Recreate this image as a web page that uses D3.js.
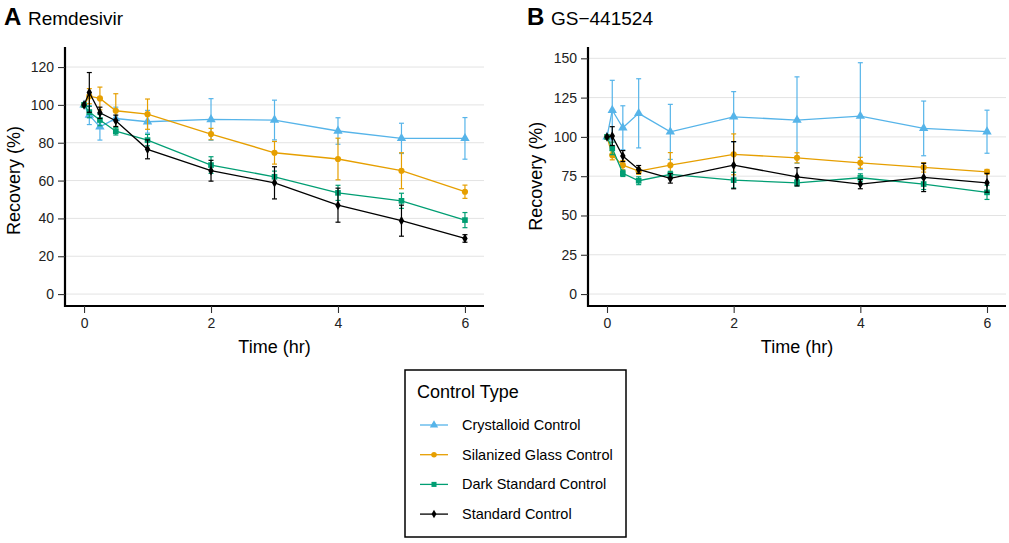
<!DOCTYPE html>
<html>
<head>
<meta charset="utf-8">
<script src="https://cdn.jsdelivr.net/npm/d3@7"></script>
<style>
  body { margin: 0; background: #fff; }
  text { font-family: "Liberation Sans", Arial, sans-serif; }
</style>
</head>
<body>
<div id="chart"></div>
<script>
var width = 1009,
    height = 543;

// sampling times (hr)
var times = [0, 0.083, 0.25, 0.5, 1, 2, 3, 4, 5, 6];
var controls = ["Crystalloid Control", "Silanized Glass Control", "Dark Standard Control", "Standard Control"];

// Panel A - Remdesivir: mean recovery (%) and sd
var remCrystalloid = [100, 94.6, 88.4, 92.8, 91.1, 92.3, 92.0, 86.2, 82.3, 82.3];
var remCrystalloidSd = [0, 5, 7, 6, 6, 11, 10.5, 7, 8, 11];
var remSilanized = [100, 104.6, 103.4, 96.9, 95.1, 84.6, 74.7, 71.4, 65.2, 54.1];
var remSilanizedSd = [0, 4, 6, 9, 8, 3, 6, 11, 9.5, 3.5];
var remDark = [100, 96.2, 92, 86.1, 81.4, 68.2, 62, 53.5, 49.3, 39.1];
var remDarkSd = [0, 3, 3, 2, 3, 4.4, 3, 4, 4, 4];
var remStandard = [100, 106.6, 95.8, 91.6, 76.5, 65.2, 58.8, 47, 38.8, 29.4];
var remStandardSd = [0, 10.5, 3, 3, 5, 5.5, 8.5, 9, 8.2, 2];

// Panel B - GS-441524
var gsCrystalloid = [100, 117, 105.8, 115, 103.2, 112.8, 110.7, 113.2, 105.4, 103.3];
var gsCrystalloidSd = [0, 19, 14, 22, 17.5, 16, 27.5, 34, 17.4, 13.7];
var gsSilanized = [100, 88.4, 82, 78.2, 82, 88.9, 86.7, 83.5, 80.6, 77.8];
var gsSilanizedSd = [0, 3, 3, 2, 8, 13, 3.2, 3.5, 3, 1.5];
var gsDark = [100, 92.7, 76.8, 72.1, 76.1, 72.5, 70.8, 74, 70, 64.7];
var gsDarkSd = [0, 4, 2, 2.5, 2, 5, 2, 2.5, 3.5, 4.5];
var gsStandard = [100, 100.5, 87.8, 79.3, 73.6, 82, 74.6, 70, 74.2, 70.8];
var gsStandardSd = [0, 6, 3.5, 2.5, 3, 15, 5.8, 3, 9, 6];

var xTicks = [0, 2, 4, 6];
var remTicks = [0, 20, 40, 60, 80, 100, 120];
var gsTicks = [0, 25, 50, 75, 100, 125, 150];

var colors = ["#56B4E9", "#E69F00", "#009E73", "#000000"];
var shapes = [d3.symbolTriangle, d3.symbolCircle, d3.symbolSquare, d3.symbolDiamond];
var sizes = [38, 30, 32, 26];

var svg = d3.select("#chart").append("svg")
    .attr("width", width)
    .attr("height", height);

svg.append("rect").attr("width", width).attr("height", height).attr("fill", "#fff");

function makeSeries(means, sds) {
  return means.map(function(m, i) {
    return times.map(function(t, j) { return {t: t, y: m[j], sd: sds[i][j]}; });
  });
}

function drawPanel(opts) {
  var x = d3.scaleLinear().domain([-0.3, 6.3]).range([opts.left, opts.right]);
  var y = d3.scaleLinear().domain(opts.yDomain).range([306, opts.top]);

  var g = svg.append("g");

  // horizontal grid
  g.append("g")
    .selectAll("line")
    .data(opts.yTicks)
    .enter().append("line")
      .attr("x1", opts.left)
      .attr("x2", opts.right)
      .attr("y1", function(d) { return y(d); })
      .attr("y2", function(d) { return y(d); })
      .attr("stroke", "#e3e3e3")
      .attr("stroke-width", 1);

  var series = makeSeries(opts.means, opts.sds);

  var line = d3.line()
    .x(function(d) { return x(d.t); })
    .y(function(d) { return y(d.y); });

  series.forEach(function(s, i) {
    var sg = g.append("g");
    var eb = sg.selectAll(".eb").data(s.filter(function(d) { return d.sd > 0; })).enter().append("g")
        .attr("stroke", colors[i])
        .attr("stroke-width", 1.2);
    eb.append("line")
      .attr("x1", function(d) { return x(d.t); })
      .attr("x2", function(d) { return x(d.t); })
      .attr("y1", function(d) { return y(d.y - d.sd); })
      .attr("y2", function(d) { return y(d.y + d.sd); });
    eb.append("line")
      .attr("x1", function(d) { return x(d.t) - 2.5; })
      .attr("x2", function(d) { return x(d.t) + 2.5; })
      .attr("y1", function(d) { return y(d.y + d.sd); })
      .attr("y2", function(d) { return y(d.y + d.sd); });
    eb.append("line")
      .attr("x1", function(d) { return x(d.t) - 2.5; })
      .attr("x2", function(d) { return x(d.t) + 2.5; })
      .attr("y1", function(d) { return y(d.y - d.sd); })
      .attr("y2", function(d) { return y(d.y - d.sd); });

    sg.append("path")
      .datum(s)
      .attr("fill", "none")
      .attr("stroke", colors[i])
      .attr("stroke-width", 1.3)
      .attr("d", line);

    sg.selectAll(".pt").data(s).enter().append("path")
      .attr("transform", function(d) { return "translate(" + x(d.t) + "," + y(d.y) + ")"; })
      .attr("fill", colors[i])
      .attr("d", d3.symbol().type(shapes[i]).size(sizes[i]));
  });

  // axes
  var xAxis = g.append("g")
      .attr("transform", "translate(0,306)")
      .call(d3.axisBottom(x).tickValues(xTicks).tickFormat(d3.format("d")).tickSize(7).tickPadding(5));
  var yAxis = g.append("g")
      .attr("transform", "translate(" + opts.left + ",0)")
      .call(d3.axisLeft(y).tickValues(opts.yTicks).tickFormat(d3.format("d")).tickSize(7).tickPadding(4));

  [xAxis, yAxis].forEach(function(a) {
    a.select(".domain").attr("stroke", "#000").attr("stroke-width", 2.2);
    a.selectAll(".tick line").attr("stroke", "#333").attr("stroke-width", 1.1);
    a.selectAll(".tick text").attr("fill", "#222").style("font-size", "14px").style("font-family", "Liberation Sans, Arial, sans-serif");
  });
  xAxis.select(".domain").attr("d", "M" + opts.left + ",0H" + opts.right);
  yAxis.select(".domain").attr("d", "M0," + opts.top + "V307");

  g.append("text")
    .attr("x", (x(0) + x(6)) / 2)
    .attr("y", 353)
    .attr("text-anchor", "middle")
    .style("font-size", "18px")
    .text("Time (hr)");

  g.append("text")
    .attr("transform", "translate(" + opts.yTitleX + "," + y(opts.yMid) + ") rotate(-90)")
    .attr("text-anchor", "middle")
    .style("font-size", "18px")
    .text("Recovery (%)");

  g.append("text")
    .attr("x", opts.tagX)
    .attr("y", 25)
    .style("font-size", "24px")
    .style("font-weight", "bold")
    .text(opts.tag);
  g.append("text")
    .attr("x", opts.tagX + 24)
    .attr("y", 25)
    .style("font-size", "19px")
    .text(opts.title);
}

drawPanel({
  left: 65, right: 484, top: 47,
  yDomain: [-6.3, 130.6],
  yTicks: remTicks,
  yMid: 60,
  yTitleX: 20,
  tag: "A", tagX: 4, title: "Remdesivir",
  means: [remCrystalloid, remSilanized, remDark, remStandard],
  sds: [remCrystalloidSd, remSilanizedSd, remDarkSd, remStandardSd]
});

drawPanel({
  left: 588, right: 1006, top: 47,
  yDomain: [-7.6, 157.2],
  yTicks: gsTicks,
  yMid: 75,
  yTitleX: 542,
  tag: "B", tagX: 527, title: "GS\u2212441524",
  means: [gsCrystalloid, gsSilanized, gsDark, gsStandard],
  sds: [gsCrystalloidSd, gsSilanizedSd, gsDarkSd, gsStandardSd]
});

// legend
var legend = svg.append("g").attr("transform", "translate(405,370)");
legend.append("rect")
  .attr("width", 221)
  .attr("height", 167)
  .attr("fill", "#fff")
  .attr("stroke", "#000")
  .attr("stroke-width", 1.5);
legend.append("text")
  .attr("x", 12)
  .attr("y", 28)
  .style("font-size", "18px")
  .text("Control Type");

var item = legend.selectAll(".item")
  .data(controls)
  .enter().append("g")
    .attr("transform", function(d, i) { return "translate(0," + (55 + i * 29.7) + ")"; });
item.append("line")
  .attr("x1", 15).attr("x2", 43)
  .attr("stroke", function(d, i) { return colors[i]; })
  .attr("stroke-width", 1.3);
item.append("path")
  .attr("transform", "translate(29,0)")
  .attr("fill", function(d, i) { return colors[i]; })
  .attr("d", function(d, i) { return d3.symbol().type(shapes[i]).size(sizes[i] * 0.8)(); });
item.append("text")
  .attr("x", 57)
  .attr("dy", "0.35em")
  .style("font-size", "14.5px")
  .text(function(d) { return d; });
</script>
</body>
</html>
